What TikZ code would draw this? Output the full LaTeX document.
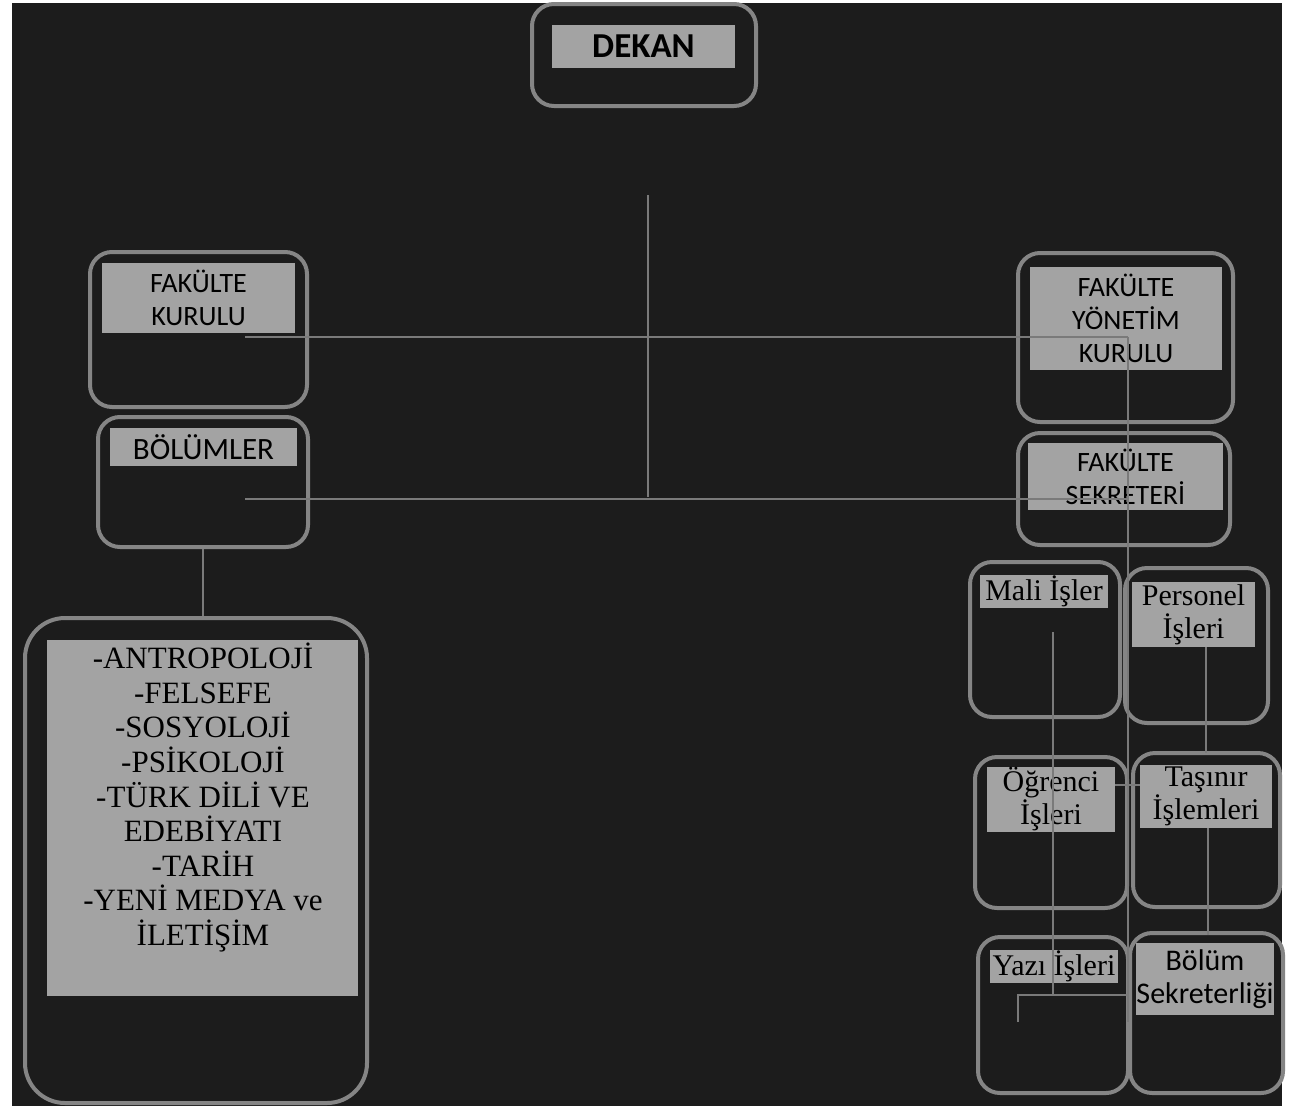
\documentclass[tikz,border=0pt]{standalone}
\usepackage{fontspec}
\setmainfont{Liberation Serif}
\newfontfamily\carlitofam{Carlito}
\definecolor{bgc}{HTML}{1C1C1C}
\definecolor{outl}{HTML}{858585}
\definecolor{labc}{HTML}{A3A3A3}
\definecolor{linec}{HTML}{7A7A7A}
\begin{document}
\begin{tikzpicture}[x=1pt,y=-1pt,
  outer/.style={draw=outl, line width=4pt, rounded corners=22pt, fill=bgc, inner sep=0pt},
  lab/.style={fill=labc, inner sep=0pt, text=black, align=center},
  sanslab/.style={lab, font=\carlitofam\fontsize{28}{33}\selectfont},
  seriflab/.style={lab, font=\fontsize{30}{33}\selectfont},
  conn/.style={draw=linec, line width=2pt}]
\path[use as bounding box] (0,0) rectangle (1298,1111);
\fill[white] (0,0) rectangle (1298,1111);
\fill[bgc] (12,3) rectangle (1282,1106);

% outer rounded boxes
\node[outer, minimum width=224pt, minimum height=102pt] (dekanO) at (644,55) {};
\node[outer, minimum width=217pt, minimum height=155pt] (fkO) at (198.5,329.5) {};
\node[outer, minimum width=210pt, minimum height=130pt] (bolO) at (203,482) {};
\node[outer, minimum width=342pt, minimum height=485pt, rounded corners=40pt] (depO) at (196,860.5) {};
\node[outer, minimum width=215pt, minimum height=169pt] (fykO) at (1125.5,337.5) {};
\node[outer, minimum width=212pt, minimum height=112pt] (fsO) at (1124,489) {};
\node[outer, minimum width=150pt, minimum height=155pt] (maliO) at (1045,639.5) {};
\node[outer, minimum width=143pt, minimum height=155pt] (perO) at (1196.5,645.5) {};
\node[outer, minimum width=152pt, minimum height=151pt] (ogrO) at (1051,832.5) {};
\node[outer, minimum width=147pt, minimum height=154pt] (tasO) at (1206.5,830) {};
\node[outer, minimum width=150pt, minimum height=156pt] (yazO) at (1053,1015) {};
\node[outer, minimum width=153pt, minimum height=160pt] (bsO) at (1206.5,1013) {};

% labels
\node[lab, font=\carlitofam\bfseries\fontsize{35}{40}\selectfont, minimum width=183pt, minimum height=43pt] (dekanL) at (643.5,46.5) {DEKAN};
\node[sanslab, minimum width=193pt, minimum height=70pt] (fkL) at (198.5,298) {FAKÜLTE\\KURULU};
\node[sanslab, font=\carlitofam\fontsize{31}{33}\selectfont, minimum width=187pt, minimum height=38pt] (bolL) at (203.5,447) {BÖLÜMLER};
\node[lab, minimum width=311pt, minimum height=356pt] (depL) at (202.5,818) {};
\node[anchor=north, align=center, text=black, inner sep=0pt, font=\fontsize{31}{34.6}\selectfont] (depT) at (203,643)
  {-ANTROPOLOJİ\\-FELSEFE\\-SOSYOLOJİ\\-PSİKOLOJİ\\-TÜRK DİLİ VE\\EDEBİYATI\\-TARİH\\-YENİ MEDYA ve\\İLETİŞİM};
\node[sanslab, minimum width=192pt, minimum height=103pt] (fykL) at (1126,318.5) {FAKÜLTE\\YÖNETİM\\KURULU};
\node[sanslab, minimum width=195pt, minimum height=67pt] (fsL) at (1125.5,476.5) {FAKÜLTE\\SEKRETERİ};
\node[seriflab, minimum width=128pt, minimum height=33pt] (maliL) at (1044,591.5) {Mali İşler};
\node[seriflab, minimum width=123pt, minimum height=65pt] (perL) at (1193.5,614.5) {Personel\\İşleri};
\node[seriflab, minimum width=128pt, minimum height=65pt] (ogrL) at (1051,799.5) {Öğrenci\\İşleri};
\node[seriflab, minimum width=132pt, minimum height=63pt] (tasL) at (1206,796.5) {Taşınır\\İşlemleri};
\node[seriflab, minimum width=128pt, minimum height=33pt] (yazL) at (1054,966.5) {Yazı İşleri};
\node[sanslab, font=\carlitofam\fontsize{30}{33}\selectfont, minimum width=134pt, minimum height=72pt] (bsL) at (1205,979) {Bölüm\\Sekreterliği};

% connector end points
\coordinate (cTop) at (648,195);
\coordinate (cMid) at (648,497);
\coordinate (fkIn) at (245,337);
\coordinate (bolIn) at (245,499);
\coordinate (rTop) at (1128,337);
\coordinate (rMid) at (1128,499);
\coordinate (rBot) at (1128,1022);
\coordinate (mTop) at (1053,632);
\coordinate (mBot) at (1053,995);
\coordinate (hL) at (1018,995);
\coordinate (hLb) at (1018,1022);
\coordinate (pTop) at (1206,647);
\coordinate (pBot) at (1206,753);
\coordinate (tTop) at (1208,828);
\coordinate (tBot) at (1208,935);

% connectors
\draw[conn] (cTop) -- (cMid);
\draw[conn] (fkIn) -- (rTop);
\draw[conn] (bolIn) -- (rMid);
\draw[conn] (rTop) -- (rBot);
\draw[conn] (bolO.south) -- (bolO.south |- depO.north);
\draw[conn] (mTop) -- (mBot);
\draw[conn] (hLb) -- (hL) -- (hL -| rBot);
\draw[conn] (pTop) -- (pBot);
\draw[conn] (tTop) -- (tBot);
\draw[conn] (ogrL.east |- 0,785) -- (tasL.west |- 0,785);
\end{tikzpicture}
\end{document}
